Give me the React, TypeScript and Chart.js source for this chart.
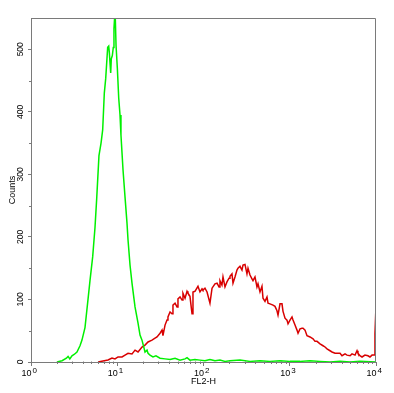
import { useEffect, useRef } from "react";
import { Chart, registerables } from "chart.js";

Chart.register(...registerables);

// FL2-H channel positions in decades (log10) and event counts
const greenLog = [0.30, 0.36, 0.41, 0.43, 0.45, 0.475, 0.50, 0.533, 0.568, 0.591, 0.626, 0.661, 0.684, 0.715, 0.742, 0.762, 0.788, 0.812, 0.831, 0.850, 0.866, 0.889, 0.901, 0.908, 0.924, 0.931, 0.943, 0.954, 0.962, 0.970, 0.977, 0.986, 1.001, 1.017, 1.032, 1.043, 1.067, 1.090, 1.113, 1.125, 1.148, 1.171, 1.206, 1.241, 1.264, 1.287, 1.322, 1.345, 1.357, 1.380, 1.414, 1.449, 1.496, 1.554, 1.612, 1.670, 1.728, 1.786, 1.809, 1.843, 1.901, 1.959, 2.017, 2.075, 2.133, 2.191, 2.249, 2.307, 2.423, 2.539, 2.655, 2.771, 2.887, 3.003, 3.119, 3.235, 3.351, 3.467, 3.583, 3.699, 3.814, 4.0];
const greenCounts = [0, 2, 6, 9, 5, 10, 12, 16, 26, 35, 55, 100, 130, 168, 215, 262, 330, 350, 371, 430, 453, 503, 505, 495, 462, 485, 490, 503, 533, 552, 552, 506, 470, 422, 395, 363, 307, 264, 222, 195, 155, 126, 88, 62, 43, 35, 16, 19, 14, 11, 8, 10, 6, 5, 4, 6, 3, 5, 7, 3, 4, 3, 2, 4, 2, 3, 1, 2, 3, 1, 2, 1, 2, 1, 1, 2, 1, 0, 1, 0, 1, 0];

const redLog = [0.777, 0.835, 0.893, 0.939, 0.974, 1.009, 1.055, 1.090, 1.125, 1.171, 1.206, 1.241, 1.287, 1.322, 1.357, 1.403, 1.438, 1.461, 1.496, 1.519, 1.530, 1.554, 1.577, 1.588, 1.612, 1.635, 1.646, 1.670, 1.693, 1.704, 1.728, 1.751, 1.762, 1.786, 1.809, 1.820, 1.843, 1.867, 1.878, 1.901, 1.936, 1.959, 1.983, 1.994, 2.017, 2.041, 2.075, 2.099, 2.133, 2.157, 2.180, 2.191, 2.214, 2.226, 2.249, 2.272, 2.296, 2.307, 2.330, 2.342, 2.365, 2.388, 2.400, 2.423, 2.446, 2.458, 2.481, 2.504, 2.516, 2.539, 2.562, 2.574, 2.597, 2.620, 2.632, 2.655, 2.678, 2.690, 2.713, 2.736, 2.748, 2.771, 2.806, 2.829, 2.852, 2.864, 2.887, 2.910, 2.922, 2.945, 2.968, 2.980, 3.003, 3.026, 3.038, 3.061, 3.084, 3.096, 3.119, 3.142, 3.154, 3.177, 3.200, 3.235, 3.270, 3.293, 3.316, 3.351, 3.386, 3.409, 3.432, 3.467, 3.490, 3.525, 3.559, 3.583, 3.606, 3.641, 3.664, 3.699, 3.722, 3.757, 3.780, 3.791, 3.814, 3.838, 3.872, 3.907, 3.930, 3.954, 3.977, 3.988, 4.0];
const redCounts = [0, 1.6, 3.2, 6.4, 4.8, 8, 8, 11, 14, 13, 19, 16, 24, 27, 32, 35, 38, 40, 46, 51, 42, 59, 67, 72, 80, 77, 91, 94, 88, 101, 104, 99, 110, 102, 113, 110, 105, 77, 112, 113, 121, 112, 117, 115, 118, 112, 94, 118, 125, 126, 120, 130, 123, 136, 120, 128, 134, 137, 141, 126, 136, 147, 150, 153, 147, 155, 156, 141, 150, 139, 133, 130, 136, 120, 125, 112, 121, 102, 97, 104, 94, 93, 91, 89, 82, 75, 93, 93, 81, 70, 67, 61, 67, 72, 67, 59, 51, 46, 53, 54, 54, 51, 42, 40, 37, 33, 33, 29, 26, 24, 21, 18, 16, 14, 14, 14, 10, 13, 11, 10, 13, 11, 18, 14, 10, 8, 11, 10, 8, 11, 11, 45, 90];

const xDecades = [0, 1, 2, 3, 4];
const xTickBase = "10";
const xTickExponents = ["0", "1", "2", "3", "4"];
const yTicks = [0, 100, 200, 300, 400, 500];
const yMinorTicks = [50, 150, 250, 350, 450];
const yMax = 550;
const xTitle = "FL2-H";
const yTitle = "Counts";

const AXIS = "#7a7a7a";
const FONT = "'Liberation Sans', Arial, sans-serif";

const framePlugin = {
  id: "frameAndMinorTicks",
  afterDraw(chart: any) {
    const { ctx, chartArea, scales } = chart;
    const x = scales.x;
    const y = scales.y;
    ctx.save();
    ctx.strokeStyle = AXIS;
    ctx.lineWidth = 1;
    const l = Math.round(chartArea.left) + 0.5;
    const r = Math.round(chartArea.right) - 0.5;
    const t = Math.round(chartArea.top) + 0.5;
    const b = Math.round(chartArea.bottom) - 0.5;
    ctx.beginPath();
    ctx.moveTo(l, t);
    ctx.lineTo(r, t);
    ctx.lineTo(r, b);
    ctx.stroke();
    ctx.beginPath();
    for (let n = 0; n < xDecades.length - 1; n++) {
      for (let k = 2; k <= 9; k++) {
        const px = Math.round(x.getPixelForValue(xDecades[n] + Math.log10(k))) + 0.5;
        ctx.moveTo(px, b);
        ctx.lineTo(px, b + 2.5);
      }
    }
    for (const v of yMinorTicks) {
      const py = Math.round(y.getPixelForValue(v)) + 0.5;
      ctx.moveTo(l, py);
      ctx.lineTo(l - 2.5, py);
    }
    ctx.stroke();

    // decade tick labels: 10 with a raised exponent
    ctx.fillStyle = "#000";
    ctx.textBaseline = "alphabetic";
    xDecades.forEach((d, i) => {
      const px = x.getPixelForValue(d);
      ctx.font = `9px ${FONT}`;
      ctx.textAlign = "right";
      ctx.fillText(xTickBase, px + 0.5, b + 14.5);
      ctx.font = `8px ${FONT}`;
      ctx.textAlign = "left";
      ctx.fillText(xTickExponents[i], px + 1.5, b + 11);
    });
    ctx.restore();
  },
};

export default function App() {
  const ref = useRef<HTMLCanvasElement | null>(null);

  useEffect(() => {
    if (!ref.current) return;
    const chart = new Chart(ref.current, {
      type: "line",
      data: {
        datasets: [
          {
            label: "control",
            data: greenLog.map((e, i) => ({ x: e, y: greenCounts[i] })),
            borderColor: "#00f000",
            borderWidth: 1.5,
            pointRadius: 0,
            tension: 0,
          },
          {
            label: "stained",
            data: redLog.map((e, i) => ({ x: e, y: redCounts[i] })),
            borderColor: "#d80000",
            borderWidth: 1.5,
            pointRadius: 0,
            tension: 0,
          },
        ],
      },
      options: {
        responsive: false,
        animation: false,
        events: [],
        layout: { padding: { top: 18, right: 18, left: 0, bottom: 0 } },
        plugins: { legend: { display: false }, tooltip: { enabled: false } },
        scales: {
          x: {
            type: "linear",
            min: 0,
            max: 4,
            afterBuildTicks: (s: any) => {
              s.ticks = xDecades.map((v) => ({ value: v }));
            },
            afterFit: (s: any) => {
              s.height = 31;
            },
            grid: { drawOnChartArea: false, drawTicks: true, tickLength: 4, color: AXIS },
            border: { display: true, color: AXIS },
            ticks: { display: false },
            title: {
              display: true,
              text: xTitle,
              color: "#000",
              font: { family: FONT, size: 9 },
              padding: { top: 0, bottom: 6 },
            },
          },
          y: {
            type: "linear",
            min: 0,
            max: yMax,
            afterBuildTicks: (s: any) => {
              s.ticks = yTicks.map((v) => ({ value: v }));
            },
            afterFit: (s: any) => {
              s.width = 31;
            },
            grid: { drawOnChartArea: false, drawTicks: true, tickLength: 3, color: AXIS },
            border: { display: true, color: AXIS },
            ticks: {
              padding: 0,
              color: "#000",
              minRotation: 90,
              maxRotation: 90,
              crossAlign: "center",
              font: { family: FONT, size: 8.5 },
            },
            title: {
              display: true,
              text: yTitle,
              color: "#000",
              font: { family: FONT, size: 9 },
              padding: { top: 7, bottom: 0 },
            },
          },
        },
      },
      plugins: [framePlugin],
    } as any);
    return () => chart.destroy();
  }, []);

  return (
    <div style={{ position: "absolute", left: 0, top: 0, width: 394, height: 393, background: "#fff" }}>
      <canvas ref={ref} width={394} height={393} style={{ display: "block" }} />
    </div>
  );
}
